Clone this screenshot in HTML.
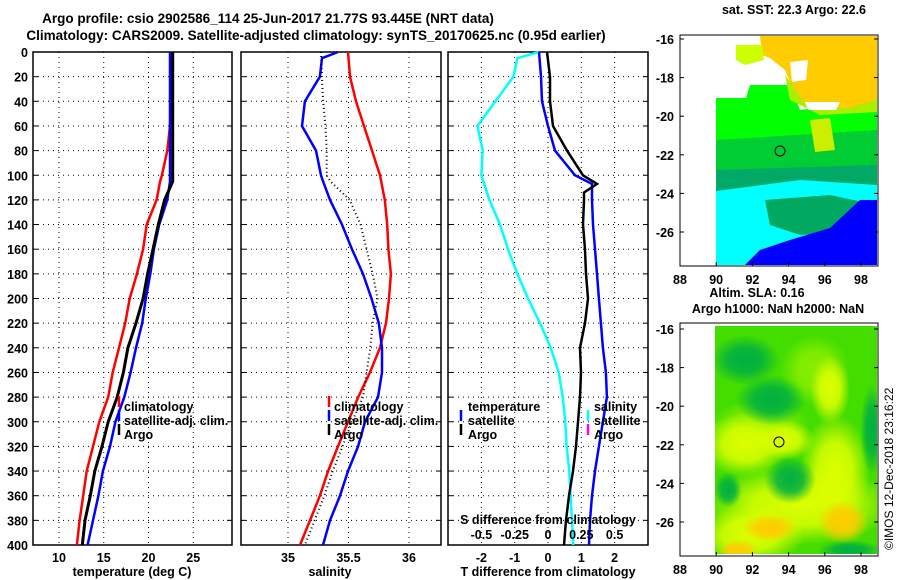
<!DOCTYPE html>
<html><head><meta charset="utf-8"><style>
body{margin:0;background:#fff;}
svg{display:block;font-family:"Liberation Sans",sans-serif;font-weight:bold;}
text{font-size:12.5px;fill:#000;}
</style></head><body>
<svg id="chart" width="900" height="580" viewBox="0 0 900 580">
<rect width="900" height="580" fill="#fff"/>
<text x="268" y="23" text-anchor="middle" style="font-size:13.5px">Argo profile: csio 2902586_114 25-Jun-2017 21.77S 93.445E (NRT data)</text>
<text x="316" y="40" text-anchor="middle" style="font-size:13.5px">Climatology: CARS2009. Satellite-adjusted climatology: synTS_20170625.nc (0.95d earlier)</text>
<g id="p1"></g>
<g id="p2"></g>
<g id="p3"></g>
<g id="m1"></g>
<g id="m2"></g>
<text transform="translate(893,550) rotate(-90)" style="font-size:12px;font-weight:normal">©IMOS 12-Dec-2018 23:16:22</text>
</svg>
<script>
// ---- data ----
const depthTicks = [0,20,40,60,80,100,120,140,160,180,200,220,240,260,280,300,320,340,360,380,400];
const tDepth = [0,20,40,60,80,100,105,120,140,160,180,200,220,240,260,280,300,320,340,360,380,400];
const tArgo = [22.7,22.7,22.7,22.7,22.7,22.7,22.7,21.8,21.1,20.5,19.9,19.4,18.6,17.7,17.2,16.5,15.5,14.8,14.0,13.5,12.9,12.6];
const tSat  = [22.4,22.4,22.4,22.4,22.4,22.4,22.4,22.1,21.2,20.6,20.2,19.7,19.3,18.6,18.0,17.3,16.3,15.7,14.9,14.4,13.8,13.2];
const tClim = [22.6,22.6,22.5,22.4,22.1,21.5,21.3,20.9,19.8,19.4,18.7,17.9,17.4,16.7,16.0,15.5,14.5,13.8,13.1,12.7,12.3,12.0];
const tTicks = [10,15,20,25];
const sDepth = [0,5,20,40,60,80,100,105,120,140,160,180,200,220,240,260,280,300,320,340,360,380,400];
const sArgo = [35.273,35.275,35.28,35.29,35.31,35.32,35.32,35.35,35.51,35.60,35.65,35.70,35.74,35.70,35.68,35.65,35.62,35.53,35.45,35.37,35.30,35.22,35.14];
const sSat  = [35.413,35.281,35.264,35.14,35.116,35.231,35.273,35.29,35.347,35.446,35.529,35.62,35.69,35.75,35.777,35.777,35.744,35.636,35.579,35.496,35.43,35.347,35.289];
const sClim = [35.496,35.50,35.512,35.562,35.628,35.694,35.76,35.77,35.80,35.82,35.83,35.85,35.835,35.81,35.76,35.678,35.58,35.496,35.413,35.331,35.264,35.182,35.099];
const sTicks = [35,35.5,36];
const dDepth = [0,20,40,60,80,100,107,114,120,140,160,180,200,220,240,260,280,300,320,340,360,380,400];
const dTArgo = [-0.03,0.06,0.06,0.15,0.57,1.05,1.47,1.08,1.08,1.05,1.11,1.14,1.20,1.11,0.96,0.99,0.96,0.90,0.84,0.75,0.63,0.54,0.48];
const dTSat  = [-0.27,-0.21,-0.18,0,0.21,0.81,1.32,1.32,1.32,1.35,1.41,1.47,1.53,1.59,1.65,1.74,1.77,1.65,1.53,1.41,1.32,1.26,1.23];
const cDepth = [0,5,20,60,80,100,120,140,160,180,200,220,240,260,280,300,320,340,360,380,400];
const dSSat  = [-0.07,-0.23,-0.26,-0.53,-0.49,-0.50,-0.44,-0.36,-0.30,-0.23,-0.15,-0.06,0.02,0.08,0.11,0.13,0.14,0.16,0.17,0.18,0.19];
const dTTicks = [-2,-1,0,1,2];
const dSTicks = ['-0.5','-0.25','0','0.25','0.5'];
const latTicks = [-16,-18,-20,-22,-24,-26];
const lonTicks = [88,90,92,94,96,98];

const NS='http://www.w3.org/2000/svg';
function mk(tag,attrs,parent){const e=document.createElementNS(NS,tag);for(const k in attrs)e.setAttribute(k,attrs[k]);parent.appendChild(e);return e;}
const top0=52, bot=545;
const yD = d => top0 + d*(bot-top0)/400;

function panel(g,x0,x1,xs,ticks,tickLab){
  depthTicks.forEach(d=>{
    if(d>0&&d<400){
      const l=mk('line',{x1:x0,x2:x1,y1:yD(d),y2:yD(d),stroke:'#000','stroke-dasharray':'1,4','stroke-width':1},g);
      
      
    }
    mk('line',{x1:x0,x2:x0+5,y1:yD(d),y2:yD(d),stroke:'#000'},g);
    mk('line',{x1:x1-5,x2:x1,y1:yD(d),y2:yD(d),stroke:'#000'},g);
  });
  ticks.forEach((t,i)=>{
    const x=xs(t);
    const l=mk('line',{x1:x,x2:x,y1:top0,y2:bot,stroke:'#000','stroke-dasharray':'1,4'},g);
    
    
    const tx=mk('text',{x:x,y:bot+17,'text-anchor':'middle'},g);
    tx.textContent=tickLab?tickLab[i]:t;
    
    
  });
  const r=mk('rect',{x:x0,y:top0,width:x1-x0,height:bot-top0,fill:'none',stroke:'#000','stroke-width':1.5},g);
  
  
}
function line(g,xs,vals,deps,col,w,name,dash){
  const pts=vals.map((v,i)=>xs(v).toFixed(1)+','+yD(deps[i]).toFixed(1)).join(' ');
  const p=mk('polyline',{points:pts,fill:'none',stroke:col,'stroke-width':w},g);
  if(dash)p.setAttribute('stroke-dasharray',dash);
  
  
}
function txt(g,x,y,s,name,anchor){
  const t=mk('text',{x:x,y:y,'text-anchor':anchor||'start'},g);
  t.textContent=s;
  
  
  return t;
}
function legTick(g,x,y,col,name){
  const l=mk('line',{x1:x,x2:x,y1:y-10,y2:y+1,stroke:col,'stroke-width':2.5},g);
  
  
}

// panel 1
const p1=document.getElementById('p1');
const xT = t => 59 + (t-10)*8.95;
panel(p1,33,232,xT,tTicks);
depthTicks.forEach(d=>{txt(p1,28,yD(d)+5,String(d),'y-tick-label','end');});
line(p1,xT,tClim,tDepth,'#f00',2.5,'temperature-climatology-line');
line(p1,xT,tSat,tDepth,'#00f',2.5,'temperature-satellite-line');
line(p1,xT,tArgo,tDepth,'#000',3,'temperature-argo-line');
txt(p1,132,576,'temperature (deg C)','x-axis-title','middle');
legTick(p1,119,406,'#f00','legend-climatology-swatch');txt(p1,124,411,'climatology','legend-climatology');
legTick(p1,119,420,'#00f','legend-satellite-swatch');txt(p1,124,425,'satellite-adj. clim.','legend-satellite');
legTick(p1,119,434,'#000','legend-argo-swatch');txt(p1,124,439,'Argo','legend-argo');

// panel 2
const p2=document.getElementById('p2');
const xS = s => 288 + (s-35)*121;
panel(p2,241,441,xS,sTicks);
line(p2,xS,sClim,sDepth,'#f00',2.5,'salinity-climatology-line');
line(p2,xS,sSat,sDepth,'#00f',2.5,'salinity-satellite-line');
line(p2,xS,sArgo,sDepth,'#000',2,'salinity-argo-line','1,3');
txt(p2,330,576,'salinity','x-axis-title','middle');
legTick(p2,329,406,'#f00','legend-climatology-swatch');txt(p2,334,411,'climatology','legend-climatology');
legTick(p2,329,420,'#00f','legend-satellite-swatch');txt(p2,334,425,'satellite-adj. clim.','legend-satellite');
legTick(p2,329,434,'#000','legend-argo-swatch');txt(p2,334,439,'Argo','legend-argo');

// panel 3
const p3=document.getElementById('p3');
const xDT = d => 548 + d*33.3;
const xDS = s => 548 + s/0.25*33.3;
panel(p3,448,648,xDT,dTTicks);
line(p3,xDS,dSSat,cDepth,'#0ff',2.5,'salinity-diff-satellite-line');
line(p3,xDT,dTSat,dDepth,'#00f',2.5,'temperature-diff-satellite-line');
line(p3,xDT,dTArgo,dDepth,'#000',2.5,'temperature-diff-argo-line');
txt(p3,548,576,'T difference from climatology','x-axis-title','middle');
txt(p3,548,524,'S difference from climatology','s-axis-title','middle');
dSTicks.forEach((s,i)=>{txt(p3,xDS(parseFloat(s)),539,s,'s-tick-label','middle');});
txt(p3,468,411,'temperature','legend-temperature-header');
legTick(p3,461,420,'#00f','legend-t-satellite-swatch');txt(p3,468,425,'satellite','legend-t-satellite');
legTick(p3,461,434,'#000','legend-t-argo-swatch');txt(p3,468,439,'Argo','legend-t-argo');
txt(p3,594,411,'salinity','legend-salinity-header');
legTick(p3,588,420,'#0ff','legend-s-satellite-swatch');txt(p3,594,425,'satellite','legend-s-satellite');
legTick(p3,588,434,'#f0f','legend-s-argo-swatch');txt(p3,594,439,'Argo','legend-s-argo');

// maps
function mapAxes(g,top,bottom,yLat){
  const xL = lon => 680 + (lon-88)*18.1;
  latTicks.forEach(l=>{
    const y=yLat(l);
    mk('line',{x1:680,x2:684,y1:y,y2:y,stroke:'#000'},g);
    mk('line',{x1:874,x2:878,y1:y,y2:y,stroke:'#000'},g);
    txt(g,674,y+5,String(l),'map-lat-label','end');
  });
  lonTicks.forEach(l=>{
    const x=xL(l);
    mk('line',{x1:x,x2:x,y1:bottom-4,y2:bottom,stroke:'#000'},g);
    txt(g,x,bottom+18,String(l),'map-lon-label','middle');
  });
  const r=mk('rect',{x:680,y:top,width:198,height:bottom-top,fill:'none',stroke:'#000','stroke-width':1},g);
  
  
  return xL;
}
// top SST map
const m1=document.getElementById('m1');
txt(m1,794,14,'sat. SST: 22.3 Argo: 22.6','map-title','middle');
const yL1 = l => 39 + (-16-l)*19.3;
[
 ['#00ff00','750,85 790,85 800,110 877,100 877,200 716,200 716,98 746,98'],
 ['#00cc33','716,140 877,130 877,190 716,195'],
 ['#00aa66','716,170 877,165 877,200 716,195'],
 ['#00ffff','716,191 800,180 877,185 877,265 716,265'],
 ['#00a860','765,200 830,195 877,205 877,230 800,235 770,225'],
 ['#0000ff','790,240 830,228 860,200 877,200 877,265 745,265 760,250'],
 ['#ffcc00','760,36 877,36 877,100 850,108 808,108 793,90 785,70 770,58 762,55'],
 ['#ccff00','736,45 762,45 764,60 745,65 736,60'],
 ['#aaee00','785,75 808,108 850,108 877,100 877,112 820,115 790,100'],
 ['#ccee00','810,120 830,118 835,150 815,152'],
].forEach(p=>{const e=mk('polygon',{points:p[1],fill:p[0]},m1);
 
 });
[['790,62 808,60 806,80 792,82'],['716,88 746,88 746,98 716,98'],['805,102 840,102 836,110 808,110']].forEach(p=>{mk('polygon',{points:p[0],fill:'#fff'},m1);});
const c1=mk('circle',{cx:780,cy:151,r:5,fill:'none',stroke:'#000','stroke-width':1},m1);


mapAxes(m1,35,266,yL1);

// bottom SLA map
const m2=document.getElementById('m2');
txt(m2,757,297,'Altim. SLA: 0.16','map-title','middle');
txt(m2,778,313,'Argo h1000: NaN h2000: NaN','map-subtitle','middle');
const defs=mk('defs',{},m2);
const cp=mk('clipPath',{id:'slaclip'},defs);
mk('rect',{x:715,y:326,width:162,height:228},cp);
function blob(id,col){
  const g=mk('radialGradient',{id:id},defs);
  mk('stop',{offset:'0','stop-color':col,'stop-opacity':'1'},g);
  mk('stop',{offset:'0.5','stop-color':col,'stop-opacity':'0.85'},g);
  mk('stop',{offset:'1','stop-color':col,'stop-opacity':'0'},g);
}
blob('gy','#ddff00');blob('go','#ffcc00');blob('gd','#00b040');blob('gl','#88ee00');
const field=mk('g',{'clip-path':'url(#slaclip)'},m2);
const bg=mk('rect',{x:715,y:326,width:162,height:228,fill:'#44dd00'},field);


[['gl',815,370,35,35],['gl',760,425,50,25],
 ['gy',745,445,45,32],['gy',785,440,30,20],['gy',800,505,95,40],['gy',750,535,55,30],['gy',835,470,35,55],['gy',830,390,20,35],
 ['gd',771,400,35,25],['gd',790,480,26,24],['gd',872,430,12,45],['gd',850,550,32,10],['gd',745,360,35,25],['gd',728,490,14,18],
 ['go',843,522,26,22],['go',738,550,20,10],['go',770,528,28,14]].forEach(b=>{
 const e=mk('ellipse',{cx:b[1],cy:b[2],rx:b[3],ry:b[4],fill:'url(#'+b[0]+')'},field);
 
 });
const c2=mk('circle',{cx:779,cy:442,r:5,fill:'none',stroke:'#000','stroke-width':1},m2);


const yL2 = l => 329 + (-16-l)*19.3;
mapAxes(m2,323,556,yL2);
</script>
</body></html>
